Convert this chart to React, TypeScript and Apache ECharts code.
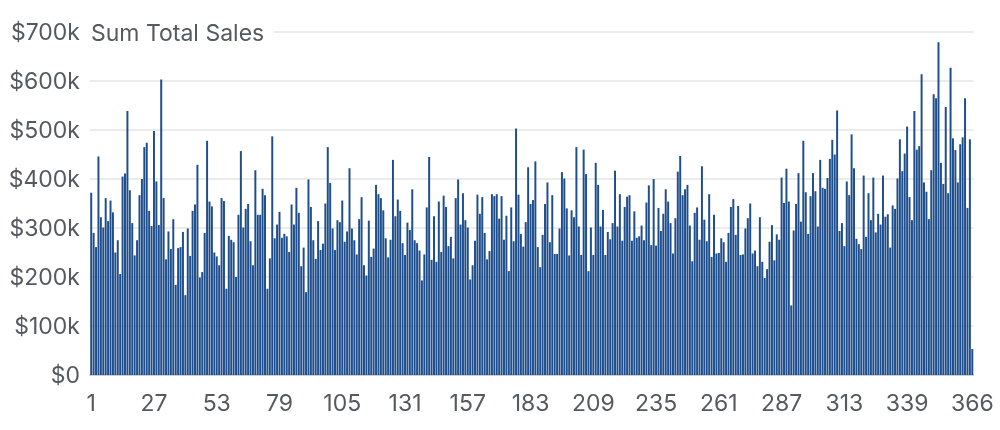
import { useEffect, useRef } from 'react';
import * as echarts from 'echarts';

// daily sales in $k, split in chunks of ~a month
const salesJan = [372, 290, 261, 446, 322, 301, 361, 314, 356, 332, 250, 275, 206, 405, 411, 539, 377, 310, 244, 275, 367, 400, 465, 474, 335, 304, 498, 395, 306, 603, 361];
const salesFeb = [236, 293, 257, 318, 184, 259, 261, 292, 163, 299, 243, 335, 348, 429, 199, 210, 290, 478, 354, 344, 250, 242, 224, 361, 355, 176, 284, 276, 271, 200];
const salesMar = [327, 457, 301, 339, 349, 273, 224, 418, 327, 327, 380, 367, 176, 238, 487, 279, 307, 333, 280, 288, 283, 251, 348, 307, 382, 331, 222, 260, 169, 399, 343];
const salesApr = [275, 237, 314, 255, 268, 350, 465, 392, 299, 255, 316, 312, 356, 272, 293, 422, 299, 275, 246, 318, 363, 224, 203, 315, 241, 258, 388, 369, 361, 336, 279];
const salesMay = [240, 276, 439, 324, 358, 335, 269, 245, 311, 296, 379, 275, 269, 254, 193, 246, 342, 445, 235, 324, 231, 354, 251, 366, 343, 263, 282, 238, 361, 399];
const salesJun = [307, 371, 316, 301, 195, 224, 274, 368, 329, 363, 290, 236, 253, 369, 365, 369, 319, 365, 276, 325, 212, 342, 273, 503, 368, 288, 262, 312, 424, 349, 357];
const salesJul = [436, 261, 220, 286, 349, 393, 271, 367, 247, 247, 299, 414, 401, 340, 244, 336, 322, 465, 303, 245, 460, 410, 212, 301, 245, 433, 388, 303, 337, 245, 292];
const salesAug = [277, 310, 417, 303, 369, 274, 343, 364, 367, 274, 334, 280, 283, 305, 275, 352, 387, 265, 400, 264, 341, 294, 329, 379, 354, 310, 248, 320, 415, 447];
const salesSep = [367, 379, 388, 305, 232, 331, 342, 276, 426, 317, 273, 369, 241, 327, 248, 249, 279, 271, 231, 290, 343, 359, 286, 345, 245, 246, 299, 320, 350, 248, 254];
const salesOct = [222, 322, 231, 198, 216, 272, 306, 234, 287, 276, 403, 351, 421, 354, 142, 295, 349, 412, 313, 478, 373, 288, 365, 412, 375, 303, 439, 382, 380, 402, 441];
const salesNov = [480, 450, 540, 294, 310, 263, 395, 367, 491, 422, 278, 267, 257, 407, 282, 371, 316, 403, 291, 329, 307, 407, 323, 328, 260, 346, 339, 401, 481, 416];
const salesDec = [452, 507, 363, 316, 539, 460, 467, 614, 393, 374, 318, 418, 573, 565, 679, 433, 390, 547, 371, 627, 483, 459, 393, 471, 485, 565, 341, 481, 53];

const sales = [
    ...salesJan, ...salesFeb, ...salesMar, ...salesApr, ...salesMay, ...salesJun,
    ...salesJul, ...salesAug, ...salesSep, ...salesOct, ...salesNov, ...salesDec,
].map((v) => v * 1000);

const days = sales.map((_, i) => String(i + 1));
const yTicks = [0, 100000, 200000, 300000, 400000, 500000, 600000, 700000];

const FONT = 'Inter, "Noto Sans", sans-serif';
const GRAY = '#555a60';

const SalesChart = () => {
    const chartRef = useRef(null);

    useEffect(() => {
        if (chartRef.current) {
            const myChart = echarts.init(chartRef.current, null, { renderer: 'svg' });

            const option = {
                animation: false,
                title: {
                    text: 'Sum Total Sales',
                    left: 85,
                    top: 21,
                    padding: [0, 10, 0, 6],
                    backgroundColor: '#ffffff',
                    textStyle: {
                        fontFamily: FONT,
                        fontSize: 23,
                        fontWeight: 'normal',
                        color: GRAY,
                    },
                },
                grid: {
                    left: 90,
                    right: 26.5,
                    top: 32,
                    bottom: 55,
                    containLabel: false,
                },
                xAxis: {
                    type: 'category',
                    data: days,
                    axisTick: { show: false },
                    axisLine: { lineStyle: { color: '#d0d0d0', width: 2 } },
                    axisLabel: {
                        interval: (index: number) => (index % 26 === 0 && index <= 338) || index === days.length - 1,
                        fontFamily: FONT,
                        fontSize: 23,
                        color: GRAY,
                        margin: 16,
                    },
                },
                yAxis: {
                    type: 'value',
                    min: yTicks[0],
                    max: yTicks[yTicks.length - 1],
                    interval: 100000,
                    axisLabel: {
                        fontFamily: FONT,
                        fontSize: 23,
                        color: GRAY,
                        margin: 10,
                        formatter: (v: number) => (v === 0 ? '$0' : `$${v / 1000}k`),
                    },
                    splitLine: { lineStyle: { color: '#e6e6e6', width: 1.5 } },
                },
                series: [
                    {
                        name: 'Sum Total Sales',
                        type: 'bar',
                        data: sales,
                        barCategoryGap: '18%',
                        itemStyle: { color: '#1f4e8c' },
                    },
                ],
            };

            myChart.setOption(option);

            return () => {
                myChart.dispose();
            };
        }
    }, []);

    return (
        <div
            ref={chartRef}
            style={{ position: 'fixed', left: 0, top: 0, width: '1000px', height: '430px' }}
        />
    );
};

export default function App() {
    return <SalesChart />;
}
